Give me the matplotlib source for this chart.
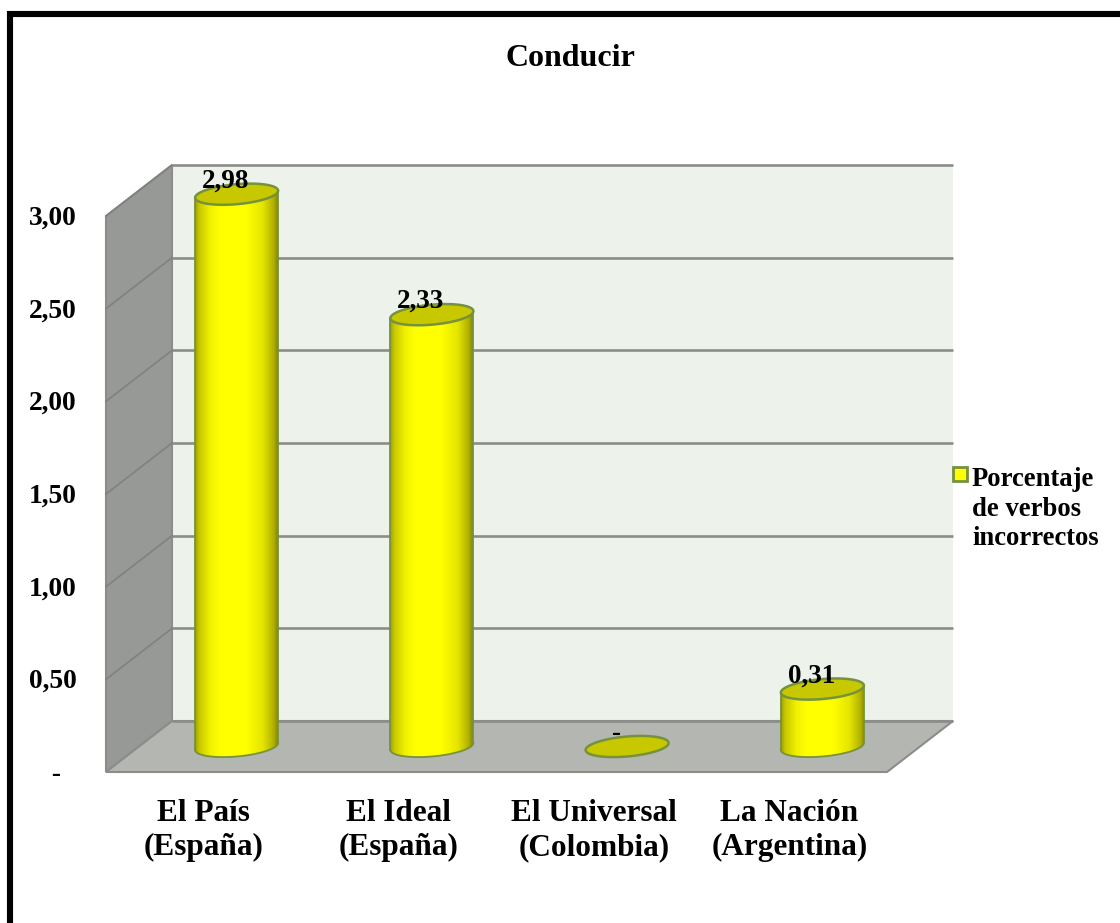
import numpy as np
import matplotlib
matplotlib.use('Agg')
import matplotlib.pyplot as plt
from matplotlib.colors import LinearSegmentedColormap
from matplotlib.lines import Line2D
from matplotlib.patches import Polygon, Rectangle
from matplotlib.transforms import Affine2D

plt.rcParams['font.family'] = ['Liberation Serif', 'DejaVu Serif']
plt.rcParams['font.weight'] = 'bold'

# data
categories = ['El País\n(España)', 'El Ideal\n(España)', 'El Universal\n(Colombia)', 'La Nación\n(Argentina)']
values = [2.98, 2.33, 0.0, 0.31]
value_labels = ['2,98', '2,33', '-', '0,31']
y_ticks = [0, 0.5, 1.0, 1.5, 2.0, 2.5, 3.0]
y_tick_labels = [' -', '0,50', '1,00', '1,50', '2,00', '2,50', '3,00']
title = 'Conducir'
legend_label = 'Porcentaje\nde verbos\nincorrectos'

W, H = 1120, 923
fig = plt.figure(figsize=(W / 100, H / 100), dpi=100, facecolor='white')

# axes = back wall of the fake 3d box
LEFT, RIGHT, TOP, BOTTOM = 172, 953, 165, 721
ax = fig.add_axes([LEFT / W, 1 - BOTTOM / H, (RIGHT - LEFT) / W, (BOTTOM - TOP) / H])
ax.set_xlim(-0.5, 3.5)
ax.set_ylim(0, 3)
ax.axis('off')

px_x = (RIGHT - LEFT) / 4
px_y = (BOTTOM - TOP) / 3
# depth of the box, in data units
DX = -66 / px_x
DY = -51 / px_y

# pixel coords from the top left, for frame, title and legend
px = Affine2D().scale(1 / W, -1 / H).translate(0, 1) + fig.transFigure

GRID = '#8c8d8a'
ax.add_patch(Rectangle((-0.5, 0), 4, 3, fc='#edf3ea', ec='none', zorder=1))
ax.add_patch(Polygon([(-0.5, 0), (-0.5, 3), (-0.5 + DX, 3 + DY), (-0.5 + DX, DY)],
                     fc='#979996', ec=GRID, lw=1.5, clip_on=False, zorder=1))
ax.add_patch(Polygon([(-0.5, 0), (3.5, 0), (3.5 + DX, DY), (-0.5 + DX, DY)],
                     fc='#b4b6b1', ec=GRID, lw=1.5, clip_on=False, zorder=1))
for t in y_ticks:
    ax.plot([-0.5, 3.5], [t, t], color=GRID, lw=1.9, zorder=2, clip_on=False, solid_capstyle='butt')
    if 0 < t:
        ax.plot([-0.5, -0.5 + DX], [t, t + DY], color='#808180', lw=1.2, zorder=2, clip_on=False)

# horizontal shading of the cylinders
shade = LinearSegmentedColormap.from_list('shade', [
    (0.0, '#a0a000'), (0.05, '#c8c800'), (0.18, '#f0f000'), (0.30, '#ffff00'),
    (0.62, '#ffff00'), (0.82, '#e4e400'), (0.95, '#b0b000'), (1.0, '#868600')])
grad = np.linspace(0, 1, 256).reshape(1, -1)

A = 41.5 / px_x
B = 10 / px_y
S = 3.5 / px_y
EDGE = '#76923c'
tt = np.linspace(0, 2 * np.pi, 121)


def ellipse(cx, cy, t):
    return np.column_stack([cx + A * np.cos(t), cy + B * np.sin(t) + S * np.cos(t)])


for i, v in enumerate(values):
    cx = i + DX / 2
    cy = DY / 2
    top = cy + v
    if v > 0:
        low = ellipse(cx, cy, np.linspace(np.pi, 2 * np.pi, 60))
        side_pts = np.vstack([low, [[cx + A, top + S]], [[cx - A, top - S]]])
        side = Polygon(side_pts, fc='none', ec='none', zorder=3, clip_on=False)
        ax.add_patch(side)
        im = ax.imshow(grad, cmap=shade, aspect='auto', zorder=3,
                       extent=[cx - A, cx + A, cy - 2 * B, top + 2 * B])
        # image is cut to the axes box otherwise
        im.set_clip_box(fig.bbox)
        im.set_clip_path(side)
        ax.plot(*low.T, color=EDGE, lw=1.3, zorder=4, clip_on=False)
        ax.plot([cx - A, cx - A], [cy - S, top - S], color=EDGE, lw=1.3, zorder=4, clip_on=False)
        ax.plot([cx + A, cx + A], [cy + S, top + S], color=EDGE, lw=1.3, zorder=4, clip_on=False)
    ax.add_patch(Polygon(ellipse(cx, top, tt), fc='#c8c800', ec=EDGE, lw=1.8, zorder=5, clip_on=False))
    ax.annotate(value_labels[i], (cx, top), xytext=(-11 * 0.72, 9.5), textcoords='offset points',
                ha='center', va='center', fontsize=19.5, fontweight='bold', zorder=6, annotation_clip=False)
    ax.annotate(categories[i], (i + DX, DY), xytext=(0, -19.2), textcoords='offset points',
                ha='center', va='top', fontsize=22.5, fontweight='bold', linespacing=1.26, annotation_clip=False)

ax.set_xlim(-0.5, 3.5)
ax.set_ylim(0, 3)

for t, lab in zip(y_ticks, y_tick_labels):
    ax.annotate(lab, (-0.5 + DX, t + DY), xytext=(-38.5, -1.5), textcoords='offset points',
                ha='center', va='center', fontsize=19.8, fontweight='bold', annotation_clip=False)

fig.text(570, 58, title, transform=px, ha='center', va='center', fontsize=23, fontweight='bold')

# legend
fig.add_artist(Rectangle((953, 467), 14, 14, transform=px, fc='#ffff00', ec=EDGE, lw=2))
fig.text(972, 509, legend_label, transform=px, ha='left', va='center', fontsize=19.2,
         fontweight='bold', linespacing=1.24)

# black frame, only left and top are inside the picture
fig.add_artist(Line2D([10, 10, W + 5], [H + 5, 14, 14], transform=px, color='black', lw=4.4,
                      solid_joinstyle='miter'))

fig.savefig('out.png', dpi=100)
